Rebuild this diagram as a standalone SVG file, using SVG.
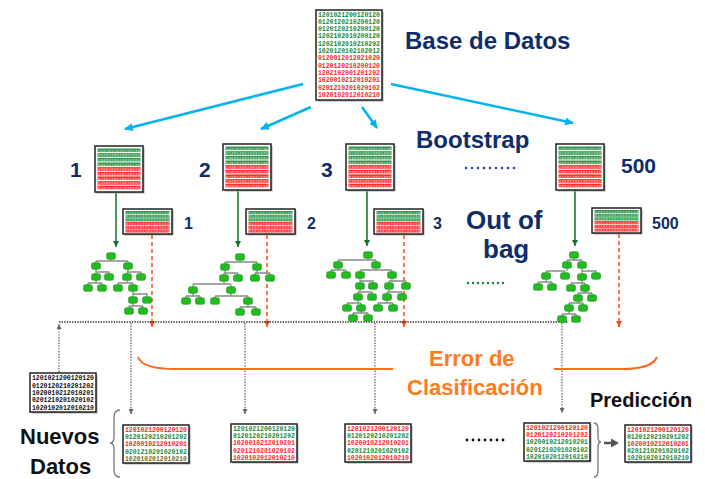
<svg xmlns="http://www.w3.org/2000/svg" xmlns:xlink="http://www.w3.org/1999/xlink" width="705" height="479" viewBox="0 0 705 479">
<style>
  .navy{font-family:"Liberation Sans",Arial,sans-serif;font-weight:bold;fill:#0f2d6b}
  .blk{font-family:"Liberation Sans",Arial,sans-serif;font-weight:bold;fill:#111}
  .org{font-family:"Liberation Sans",Arial,sans-serif;font-weight:bold;fill:#ff7a21}
  .d{font-family:"Liberation Mono","DejaVu Sans Mono",monospace;font-weight:bold;font-size:6.5px}
  .ds{font-family:"Liberation Mono","DejaVu Sans Mono",monospace;font-weight:bold;fill:#fff;fill-opacity:.6}
  .g{fill:#1d8a3a}.r{fill:#ff1f1f}.k{fill:#111}.o{fill:#7a6b1c}
  .frame{fill:#fff;stroke:#222;stroke-width:1.5}
  .shadow{fill:#aaa}
  .sg{fill:#34964f}.sr{fill:#ff3030}
  .edge{fill:none;stroke:#8a8a8a;stroke-width:1.3}
  .blue{stroke:#00b4f0;stroke-width:2.5;fill:none}
  .gline{stroke:#1e7a34;stroke-width:1.6;fill:none}
  .rdash{stroke:#ff4a1a;stroke-width:1.5;stroke-dasharray:4 3;fill:none}
  .dot{stroke:#666;stroke-width:1.3;stroke-dasharray:1.4 1.4;fill:none}
  .hdot{stroke:#333;stroke-width:1.5;stroke-dasharray:1.4 1.2;fill:none}
</style>
<defs>
  <marker id="mBlue" markerUnits="userSpaceOnUse" markerWidth="10" markerHeight="8" refX="8" refY="4" orient="auto"><path d="M0,0 L9,4 L0,8 z" fill="#00b4f0"/></marker>
  <marker id="mGreen" markerUnits="userSpaceOnUse" markerWidth="7" markerHeight="6" refX="6" refY="3" orient="auto"><path d="M0,0 L6,3 L0,6 z" fill="#1e6e2e"/></marker>
  <marker id="mRed" markerUnits="userSpaceOnUse" markerWidth="7" markerHeight="6" refX="6" refY="3" orient="auto"><path d="M0,0 L6,3 L0,6 z" fill="#ff4a1a"/></marker>
  <marker id="mGrey" markerUnits="userSpaceOnUse" markerWidth="6" markerHeight="5" refX="5" refY="2.5" orient="auto"><path d="M0,0 L5,2.5 L0,5 z" fill="#666"/></marker>
  <rect id="leaf" x="-4.5" y="-3.3" width="9" height="6.6" rx="1.9" fill="#22bb22" stroke="#179417" stroke-width=".6"/>
  <!-- bootstrap sample: 9 rows, green then red -->
  <g id="bootRows">
    <rect class="shadow" x="1.5" y="1.5" width="48" height="46"/>
    <rect class="frame" x="0" y="0" width="48" height="46"/>
    <rect class="sg" x="2.5" y="2.5" width="43" height="3.6"/><rect class="sg" x="2.5" y="7.2" width="43" height="3.6"/>
    <rect class="sg" x="2.5" y="11.8" width="43" height="3.6"/><rect class="sg" x="2.5" y="16.5" width="43" height="3.6"/>
    <rect class="sr" x="2.5" y="21.1" width="43" height="3.6"/><rect class="sr" x="2.5" y="25.8" width="43" height="3.6"/>
    <rect class="sr" x="2.5" y="30.4" width="43" height="3.6"/><rect class="sr" x="2.5" y="35.1" width="43" height="3.6"/>
    <rect class="sr" x="2.5" y="39.7" width="43" height="3.6"/>
    <g class="ds" font-size="3.6">
      <text x="3" y="5.6" textLength="42">1201021200120120</text>
      <text x="3" y="10.3" textLength="42">0120120210201202</text>
      <text x="3" y="14.9" textLength="42">1020010212010201</text>
      <text x="3" y="19.6" textLength="42">0201210201020102</text>
      <text x="3" y="24.2" textLength="42">1020102012010210</text>
      <text x="3" y="28.9" textLength="42">1201021200120120</text>
      <text x="3" y="33.5" textLength="42">0120120210201202</text>
      <text x="3" y="38.2" textLength="42">1020010212010201</text>
      <text x="3" y="42.8" textLength="42">0201210201020102</text>
    </g>
  </g>
  <!-- out-of-bag sample: 6 rows -->
  <g id="oobRows">
    <rect class="shadow" x="1.5" y="1.5" width="49" height="25"/>
    <rect class="frame" x="0" y="0" width="49" height="25"/>
    <rect class="sg" x="2.5" y="2" width="44" height="3"/><rect class="sg" x="2.5" y="5.7" width="44" height="3"/>
    <rect class="sg" x="2.5" y="9.4" width="44" height="3"/><rect class="sr" x="2.5" y="13.1" width="44" height="3"/>
    <rect class="sr" x="2.5" y="16.8" width="44" height="3"/><rect class="sr" x="2.5" y="20.5" width="44" height="3"/>
    <g class="ds" font-size="3">
      <text x="3" y="4.6" textLength="43">1201021200120120</text>
      <text x="3" y="8.3" textLength="43">0120120210201202</text>
      <text x="3" y="12" textLength="43">1020010212010201</text>
      <text x="3" y="15.7" textLength="43">0201210201020102</text>
      <text x="3" y="19.4" textLength="43">1020102012010210</text>
      <text x="3" y="23.1" textLength="43">1201021200120120</text>
    </g>
  </g>
</defs>

<rect width="705" height="479" fill="#fff"/>

<!-- connectors -->
<g id="connectors">
  <path class="blue" d="M303,84 L125,129" marker-end="url(#mBlue)"/>
  <path class="blue" d="M311,107 L261,129" marker-end="url(#mBlue)"/>
  <path class="blue" d="M362,107 L377,128" marker-end="url(#mBlue)"/>
  <path class="blue" d="M391,84 L573,123" marker-end="url(#mBlue)"/>

  <path class="gline" d="M116,192 V247" marker-end="url(#mGreen)"/>
  <path class="gline" d="M238,190 V247" marker-end="url(#mGreen)"/>
  <path class="gline" d="M367,190 V246" marker-end="url(#mGreen)"/>
  <path class="gline" d="M575,190 V246" marker-end="url(#mGreen)"/>

  <path class="rdash" d="M152,235 V327" marker-end="url(#mRed)"/>
  <path class="rdash" d="M267,235 V327" marker-end="url(#mRed)"/>
  <path class="rdash" d="M404,235 V327" marker-end="url(#mRed)"/>
  <path class="rdash" d="M619,234 V327" marker-end="url(#mRed)"/>

  <path class="hdot" d="M59,322 H568"/>
  <path class="dot" d="M59,372 V324" marker-end="url(#mGrey)"/>
  <path class="dot" d="M131,323 V414" marker-end="url(#mGrey)"/>
  <path class="dot" d="M245,323 V414" marker-end="url(#mGrey)"/>
  <path class="dot" d="M375,323 V414" marker-end="url(#mGrey)"/>
  <path class="dot" d="M562,323 V413" marker-end="url(#mGrey)"/>

  <!-- classification error brace -->
  <path d="M138,357 Q142,369 176,369 H393 M554,369 H622 Q652,369 657,357" fill="none" stroke="#ff6a1a" stroke-width="2"/>

  <!-- grouping braces and result arrow -->
  <path d="M120,410 Q114,410 114,418 V437 Q114,443 110,443 Q114,443 114,449 V470 Q114,477 120,477" fill="none" stroke="#777" stroke-width="1.3"/>
  <path d="M594,423 Q598,423 598,430 V437 Q598,442 601,442 Q598,442 598,447 V470 Q598,477 594,477" fill="none" stroke="#777" stroke-width="1.3"/>
  <path d="M604,443 H612" stroke="#555" stroke-width="2.5"/>
  <path d="M611,438.5 L619,443 L611,447.5 z" fill="#555"/>
</g>

<!-- full data set -->
<g id="database">
  <rect class="shadow" x="317.5" y="11.5" width="66" height="90"/>
  <rect class="frame" x="316" y="10" width="66" height="90"/>
  <g class="d">
    <text class="g" x="318" y="16.5" textLength="62">1201021200120120</text>
    <text class="g" x="318" y="23.8" textLength="62">0120120210200120</text>
    <text class="g" x="318" y="31.1" textLength="62">0120120210200120</text>
    <text class="g" x="318" y="38.4" textLength="62">1202102010200120</text>
    <text class="g" x="318" y="45.7" textLength="62">1202102010210202</text>
    <text class="g" x="318" y="53" textLength="62">1020120102102012</text>
    <text class="r" x="318" y="60.3" textLength="62">0120012012021020</text>
    <text class="r" x="318" y="67.6" textLength="62">0120120210200120</text>
    <text class="r" x="318" y="74.9" textLength="62">1202102001201202</text>
    <text class="r" x="318" y="82.2" textLength="62">1020010212010201</text>
    <text class="r" x="318" y="89.5" textLength="62">0201210201020102</text>
    <text class="r" x="318" y="96.8" textLength="62">1020102012010210</text>
  </g>
  <text class="navy" x="405" y="49" font-size="24">Base de Datos</text>
</g>

<g id="labels">
  <text class="navy" x="416" y="148" font-size="24">Bootstrap</text>
  <text class="navy" x="466" y="229" font-size="26">Out of</text>
  <text class="navy" x="483" y="258" font-size="26">bag</text>
  <g fill="#2a3fc4">
    <circle cx="466" cy="168" r="1.3"/><circle cx="472" cy="168" r="1.3"/><circle cx="478" cy="168" r="1.3"/>
    <circle cx="484" cy="168" r="1.3"/><circle cx="490" cy="168" r="1.3"/><circle cx="496" cy="168" r="1.3"/>
    <circle cx="502" cy="168" r="1.3"/><circle cx="508" cy="168" r="1.3"/><circle cx="514" cy="168" r="1.3"/>
  </g>
  <g fill="#1e7a3a">
    <circle cx="468" cy="283" r="1.2"/><circle cx="473" cy="283" r="1.2"/><circle cx="478" cy="283" r="1.2"/>
    <circle cx="483" cy="283" r="1.2"/><circle cx="488" cy="283" r="1.2"/><circle cx="493" cy="283" r="1.2"/>
    <circle cx="498" cy="283" r="1.2"/><circle cx="503" cy="283" r="1.2"/>
  </g>
  <g fill="#111">
    <circle cx="467" cy="440" r="1.4"/><circle cx="473" cy="440" r="1.4"/><circle cx="479" cy="440" r="1.4"/>
    <circle cx="485" cy="440" r="1.4"/><circle cx="491" cy="440" r="1.4"/><circle cx="497" cy="440" r="1.4"/>
    <circle cx="503" cy="440" r="1.4"/>
  </g>
  <text class="org" x="429" y="366" font-size="22">Error de</text>
  <text class="org" x="407" y="395" font-size="22">Clasificación</text>
  <text class="blk" x="20" y="444" font-size="22">Nuevos</text>
  <text class="blk" x="30" y="474" font-size="22">Datos</text>
  <text class="blk" x="590" y="407" font-size="20">Predicción</text>
</g>

<!-- bootstrap samples -->
<g id="boot1"><use href="#bootRows" x="95" y="146"/><text class="navy" x="70" y="177" font-size="21">1</text></g>
<g id="boot2"><use href="#bootRows" x="223" y="144"/><text class="navy" x="199" y="177" font-size="21">2</text></g>
<g id="boot3"><use href="#bootRows" x="346" y="144"/><text class="navy" x="321" y="177" font-size="21">3</text></g>
<g id="boot500"><use href="#bootRows" x="556" y="144"/><text class="navy" x="621" y="173" font-size="21">500</text></g>

<!-- out-of-bag samples -->
<g id="oob1"><use href="#oobRows" x="123" y="209"/><text class="navy" x="184" y="229" font-size="16">1</text></g>
<g id="oob2"><use href="#oobRows" x="246" y="209"/><text class="navy" x="307" y="229" font-size="16">2</text></g>
<g id="oob3"><use href="#oobRows" x="374" y="209"/><text class="navy" x="433" y="229" font-size="16">3</text></g>
<g id="oob500"><use href="#oobRows" x="592" y="208"/><text class="navy" x="652" y="229" font-size="16">500</text></g>

<!-- decision trees -->
<g id="tree1">
  <path class="edge" d="M111 256V261M96 261H128M96 261V266M128 261V266M96 266V272H109V277M96 272V277M128 266V272M127 272H141M127 272V277M141 272V277M96 277V283M88 283H102M88 283V288M102 283V288M127 277V283M118 283H133M118 283V288M133 283V288M133 288V294H147V300M133 294V300M133 300V306M129 306H143M129 306V311M143 306V311"/>
  <use href="#leaf" x="111" y="256"/><use href="#leaf" x="96" y="266"/><use href="#leaf" x="128" y="266"/>
  <use href="#leaf" x="96" y="277"/><use href="#leaf" x="109" y="277"/><use href="#leaf" x="127" y="277"/><use href="#leaf" x="141" y="277"/>
  <use href="#leaf" x="88" y="288"/><use href="#leaf" x="102" y="288"/><use href="#leaf" x="118" y="288"/><use href="#leaf" x="133" y="288"/>
  <use href="#leaf" x="133" y="300"/><use href="#leaf" x="147" y="300"/><use href="#leaf" x="129" y="311"/><use href="#leaf" x="143" y="311"/>
</g>
<g id="tree2">
  <path class="edge" d="M240 257V262M225 262H257M225 262V267M257 262V267M225 267V273M224 273H238M224 273V278M238 273V278M257 267V273M255 273H270M255 273V278M270 273V278M224 278V284M193 284H231M193 284V290M231 284V290M193 290V296M186 296H200M186 296V301M200 296V301M231 290V296M215 296H248M215 296V301M248 296V301M248 301V307M240 307H256M240 307V312M256 307V312"/>
  <use href="#leaf" x="240" y="257"/><use href="#leaf" x="225" y="267"/><use href="#leaf" x="257" y="267"/>
  <use href="#leaf" x="224" y="278"/><use href="#leaf" x="238" y="278"/><use href="#leaf" x="255" y="278"/><use href="#leaf" x="270" y="278"/>
  <use href="#leaf" x="193" y="290"/><use href="#leaf" x="231" y="290"/>
  <use href="#leaf" x="186" y="301"/><use href="#leaf" x="200" y="301"/><use href="#leaf" x="215" y="301"/><use href="#leaf" x="248" y="301"/>
  <use href="#leaf" x="240" y="312"/><use href="#leaf" x="256" y="312"/>
</g>
<g id="tree3">
  <path class="edge" d="M368 255V260M338 260H376M338 260V265M376 260V265M338 265V270M331 270H346M331 270V275M346 270V275M376 265V270M360 270H392M360 270V275M392 270V275M360 275V281H373V286M360 281V286M392 275V281M389 281H406M389 281V286M406 281V286M360 286V292M358 292H372M358 292V297M372 292V297M389 286V292M387 292H402M387 292V297M402 292V297M358 297V303M347 303H361M347 303V308M361 303V308M387 297V303M378 303H393M378 303V308M393 303V308M361 308V313M353 313H368M353 313V318M368 313V318"/>
  <use href="#leaf" x="368" y="255"/><use href="#leaf" x="338" y="265"/><use href="#leaf" x="376" y="265"/>
  <use href="#leaf" x="331" y="275"/><use href="#leaf" x="346" y="275"/><use href="#leaf" x="360" y="275"/><use href="#leaf" x="392" y="275"/>
  <use href="#leaf" x="360" y="286"/><use href="#leaf" x="373" y="286"/><use href="#leaf" x="389" y="286"/><use href="#leaf" x="406" y="286"/>
  <use href="#leaf" x="358" y="297"/><use href="#leaf" x="372" y="297"/><use href="#leaf" x="387" y="297"/><use href="#leaf" x="402" y="297"/>
  <use href="#leaf" x="347" y="308"/><use href="#leaf" x="361" y="308"/><use href="#leaf" x="378" y="308"/><use href="#leaf" x="393" y="308"/>
  <use href="#leaf" x="353" y="318"/><use href="#leaf" x="368" y="318"/>
</g>
<g id="tree500">
  <path class="edge" d="M574 255V260M567 260H582M567 260V265M582 260V265M567 265V271M546 271H565M546 271V276M565 271V276M582 265V277M582 271H596V276M546 276V282M538 282H552M538 282V287M552 282V287M582 277V283M571 283H585M571 283V288M585 283V288M585 288V293M578 293H592M578 293V298M592 293V298M578 298V303M569 303H583M569 303V308M583 303V308M569 308V314M562 314H576M562 314V319M576 314V319"/>
  <use href="#leaf" x="574" y="255"/><use href="#leaf" x="567" y="265"/><use href="#leaf" x="582" y="265"/>
  <use href="#leaf" x="546" y="276"/><use href="#leaf" x="565" y="276"/><use href="#leaf" x="582" y="277"/><use href="#leaf" x="596" y="276"/>
  <use href="#leaf" x="538" y="287"/><use href="#leaf" x="552" y="287"/><use href="#leaf" x="571" y="288"/><use href="#leaf" x="585" y="288"/>
  <use href="#leaf" x="578" y="298"/><use href="#leaf" x="592" y="298"/><use href="#leaf" x="569" y="308"/><use href="#leaf" x="583" y="308"/>
  <use href="#leaf" x="562" y="319"/><use href="#leaf" x="576" y="319"/>
</g>

<!-- unlabeled input record -->
<g id="newRecord" transform="translate(30,373)">
  <rect class="shadow" x="1.5" y="1.5" width="66" height="39"/>
  <rect class="frame" width="66" height="39"/>
  <g class="d k">
    <text x="2" y="7.2" textLength="62">1201021200120120</text>
    <text x="2" y="14.6" textLength="62">0120120210201202</text>
    <text x="2" y="22" textLength="62">1020010212010201</text>
    <text x="2" y="29.4" textLength="62">0201210201020102</text>
    <text x="2" y="36.8" textLength="62">1020102012010210</text>
  </g>
</g>

<!-- per-tree predictions on new data -->
<g id="pred1" transform="translate(123,425)">
  <rect class="shadow" x="1.5" y="1.5" width="66" height="38"/>
  <rect class="frame" width="66" height="38"/>
  <g class="d">
    <text class="r" x="2" y="7" textLength="62">1201021200120120</text>
    <text class="g" x="2" y="14.2" textLength="62">0120120210201202</text>
    <text class="r" x="2" y="21.4" textLength="62">1020010212010201</text>
    <text class="g" x="2" y="28.6" textLength="62">0201210201020102</text>
    <text class="o" x="2" y="35.8" textLength="62">1020102012010210</text>
  </g>
</g>
<g id="pred2" transform="translate(231,424)">
  <rect class="shadow" x="1.5" y="1.5" width="66" height="38"/>
  <rect class="frame" width="66" height="38"/>
  <g class="d">
    <text class="g" x="2" y="7" textLength="62">1201021200120120</text>
    <text class="g" x="2" y="14.2" textLength="62">0120120210201202</text>
    <text class="r" x="2" y="21.4" textLength="62">1020010212010201</text>
    <text class="r" x="2" y="28.6" textLength="62">0201210201020102</text>
    <text class="r" x="2" y="35.8" textLength="62">1020102012010210</text>
  </g>
</g>
<g id="pred3" transform="translate(345,424)">
  <rect class="shadow" x="1.5" y="1.5" width="66" height="38"/>
  <rect class="frame" width="66" height="38"/>
  <g class="d">
    <text class="r" x="2" y="7" textLength="62">1201021200120120</text>
    <text class="g" x="2" y="14.2" textLength="62">0120120210201202</text>
    <text class="r" x="2" y="21.4" textLength="62">1020010212010201</text>
    <text class="g" x="2" y="28.6" textLength="62">0201210201020102</text>
    <text class="r" x="2" y="35.8" textLength="62">1020102012010210</text>
  </g>
</g>
<g id="pred500" transform="translate(524,423)">
  <rect class="shadow" x="1.5" y="1.5" width="66" height="38"/>
  <rect class="frame" width="66" height="38"/>
  <g class="d">
    <text class="r" x="2" y="7" textLength="62">1201021200120120</text>
    <text class="r" x="2" y="14.2" textLength="62">0120120210201202</text>
    <text class="g" x="2" y="21.4" textLength="62">1020010212010201</text>
    <text class="g" x="2" y="28.6" textLength="62">0201210201020102</text>
    <text class="g" x="2" y="35.8" textLength="62">1020102012010210</text>
  </g>
</g>

<!-- aggregated prediction -->
<g id="finalPrediction" transform="translate(625,425)">
  <rect class="shadow" x="1.5" y="1.5" width="66" height="37"/>
  <rect class="frame" width="66" height="37"/>
  <g class="d">
    <text class="r" x="2" y="7" textLength="62">1201021200120120</text>
    <text class="g" x="2" y="14.1" textLength="62">0120120210201202</text>
    <text class="r" x="2" y="21.2" textLength="62">1020010212010201</text>
    <text class="g" x="2" y="28.3" textLength="62">0201210201020102</text>
    <text class="g" x="2" y="35.4" textLength="62">1020102012010210</text>
  </g>
</g>
</svg>
